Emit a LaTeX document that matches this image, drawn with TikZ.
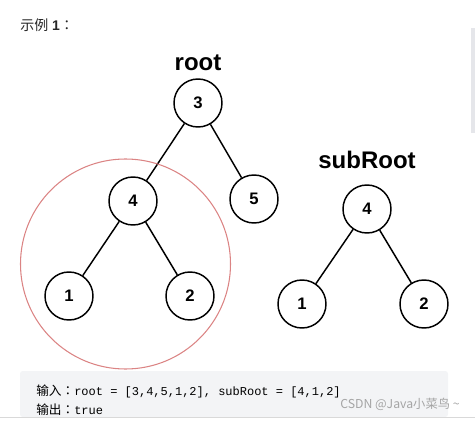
\documentclass[tikz,border=0pt]{standalone}
\usepackage{fontspec}
\setmainfont{Liberation Sans}
\setmonofont{Liberation Mono}
\newfontfamily\cjk{Noto Sans CJK SC}
\newfontfamily\cjkp{Noto Sans CJK TC}
\definecolor{ringred}{RGB}{219,132,132}
\definecolor{codebg}{RGB}{243,244,246}
\definecolor{wmgray}{RGB}{165,165,165}
\definecolor{bargray}{RGB}{229,230,234}
\tikzset{
  tnode/.style={circle,draw,line width=1.1pt,minimum size=36pt,inner sep=0pt,
    font=\bfseries\fontsize{12.5}{12.5}\selectfont},
  tname/.style={font=\bfseries\fontsize{18}{18}\selectfont,anchor=base},
  edge/.style={line width=1.1pt}
}
\begin{document}
\begin{tikzpicture}[x=0.75pt,y=-0.75pt]
\useasboundingbox (0,0) rectangle (475,421);
\fill[bargray](471,28) rectangle (475,133);
\node[anchor=base west,inner sep=0pt,text=black!85,font=\fontsize{10.5}{10.5}\selectfont] (title) at (20,31) {{\cjk 示例} \textbf{1}{\cjkp ：}};
% tree root
\node[tname] (rootname) at (198,70) {root};
\node[tnode] (a3) at (198,103) {3};
\node[tnode] (a4) at (133,201) {4};
\node[tnode] (a5) at (254,199) {5};
\node[tnode] (a1) at (69,296) {1};
\node[tnode] (a2) at (190,296) {2};
\draw[edge](a3)--(a4);
\draw[edge](a3)--(a5);
\draw[edge](a4)--(a1);
\draw[edge](a4)--(a2);
\draw[ringred,line width=0.8pt](125.5,264) circle (78.75pt);
% tree subRoot
\node[tname] (subname) at (367,168) {subRoot};
\node[tnode] (b4) at (367,209) {4};
\node[tnode] (b1) at (302,304) {1};
\node[tnode] (b2) at (424,304) {2};
\draw[edge](b4)--(b1);
\draw[edge](b4)--(b2);
% example text
\fill[codebg,rounded corners=2pt](20,371) rectangle (448,417);
\draw[black!15](0,417.5)--(475,417.5);
\node[anchor=base west,inner sep=0pt,font=\fontsize{9.5}{9.5}\selectfont] (input) at (36,395) {{\cjk 输入}{\cjkp ：}\texttt{\fontsize{9}{9}\selectfont root = [3,4,5,1,2], subRoot = [4,1,2]}};
\node[anchor=base west,inner sep=0pt,font=\fontsize{9.5}{9.5}\selectfont] (output) at (36,414) {{\cjk 输出}{\cjkp ：}\texttt{\fontsize{9}{9}\selectfont true}};
\node[anchor=base west,inner sep=0pt,text=wmgray,font=\fontsize{9.2}{9.2}\selectfont] (mark) at (340,408) {\cjk CSDN @Java小菜鸟 \textasciitilde};
\end{tikzpicture}
\end{document}
